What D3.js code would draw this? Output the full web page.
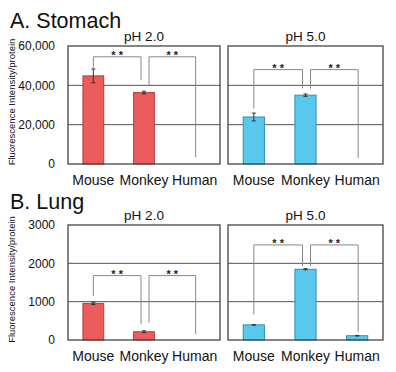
<!DOCTYPE html>
<html>
<head>
<meta charset="utf-8">
<script src="https://cdn.jsdelivr.net/npm/d3@7"></script>
<style>
  body { margin: 0; background: #fff; }
  svg { font-family: "Liberation Sans", Arial, sans-serif; }
</style>
</head>
<body>
<svg id="chart" width="396" height="372"></svg>
<script>
// data
var species = ["Mouse", "Monkey", "Human"];

var stomachPH2 = [44800, 36300, 0];
var stomachPH2Err = [3500, 700, 0];
var stomachPH5 = [23900, 35000, 0];
var stomachPH5Err = [2000, 600, 0];

var lungPH2 = [955, 215, 0];
var lungPH2Err = [30, 25, 0];
var lungPH5 = [395, 1845, 112];
var lungPH5Err = [8, 15, 8];

var stomachTicks = [0, 20000, 40000, 60000];
var lungTicks = [0, 1000, 2000, 3000];

// brackets: [from, to, top value, left leg end, right leg end]
var stomachPH2Brackets = [[0, 1, 54500, 48600, 42600], [1, 2, 54500, 40000, 3500]];
var stomachPH5Brackets = [[0, 1, 48000, 28200, 38400], [1, 2, 48000, 38400, 3000]];
var lungPH2Brackets = [[0, 1, 1680, 1145, 410], [1, 2, 1680, 450, 150]];
var lungPH5Brackets = [[0, 1, 2480, 670, 1925], [1, 2, 2480, 1925, 215]];

var svg = d3.select("#chart");

var red = {fill: "#ec5c5c", stroke: "#b23c3c"},
    blue = {fill: "#58c8ec", stroke: "#3b8cad"};

var panels = [
  {x0: 68, x1: 220, y0: 46, y1: 164, title: "pH 2.0", vals: stomachPH2, err: stomachPH2Err, br: stomachPH2Brackets, ticks: stomachTicks, col: red, axis: true, fmt: d3.format(",")},
  {x0: 228, x1: 383, y0: 46, y1: 164, title: "pH 5.0", vals: stomachPH5, err: stomachPH5Err, br: stomachPH5Brackets, ticks: stomachTicks, col: blue, axis: false},
  {x0: 68, x1: 220, y0: 225, y1: 340, title: "pH 2.0", vals: lungPH2, err: lungPH2Err, br: lungPH2Brackets, ticks: lungTicks, col: red, axis: true, fmt: d3.format("d")},
  {x0: 228, x1: 383, y0: 225, y1: 340, title: "pH 5.0", vals: lungPH5, err: lungPH5Err, br: lungPH5Brackets, ticks: lungTicks, col: blue, axis: false}
];

// section headings
svg.append("text").attr("x", 10).attr("y", 28)
  .attr("font-size", 21.5).attr("fill", "#111").text("A. Stomach");
svg.append("text").attr("x", 10).attr("y", 209)
  .attr("font-size", 21.5).attr("fill", "#111").text("B. Lung");

panels.forEach(function(p) {
  var x = d3.scaleBand().domain(species).range([p.x0, p.x1]);
  var y = d3.scaleLinear()
      .domain([p.ticks[0], p.ticks[p.ticks.length - 1]])
      .range([p.y1, p.y0]);
  var barW = x.bandwidth() * 0.41;
  var cx = function(i) { return x(species[i]) + x.bandwidth() / 2; };

  var g = svg.append("g");

  // grid lines
  g.selectAll(".grid")
    .data(p.ticks.slice(1, -1))
    .enter().append("line")
      .attr("x1", p.x0).attr("x2", p.x1)
      .attr("y1", function(d) { return y(d); })
      .attr("y2", function(d) { return y(d); })
      .attr("stroke", "#555").attr("stroke-width", 1);

  // bars
  g.selectAll(".bar")
    .data(p.vals)
    .enter().append("rect")
      .attr("x", function(d, i) { return cx(i) - barW / 2; })
      .attr("width", barW)
      .attr("y", function(d) { return y(d); })
      .attr("height", function(d) { return p.y1 - y(d); })
      .attr("fill", p.col.fill)
      .attr("stroke", function(d) { return d > 0 ? p.col.stroke : "none"; })
      .attr("stroke-width", 1);

  // error bars
  p.vals.forEach(function(v, i) {
    if (v <= 0) return;
    var e = p.err[i];
    g.append("line")
      .attr("x1", cx(i)).attr("x2", cx(i))
      .attr("y1", y(v + e)).attr("y2", y(v - e))
      .attr("stroke", "#333").attr("stroke-width", 1);
    [v + e, v - e].forEach(function(t) {
      g.append("line")
        .attr("x1", cx(i) - 2).attr("x2", cx(i) + 2)
        .attr("y1", y(t)).attr("y2", y(t))
        .attr("stroke", "#333").attr("stroke-width", 1);
    });
  });

  // significance brackets
  p.br.forEach(function(b) {
    var xl = cx(b[0]) + (b[0] === 1 ? 5 : 0),
        xr = cx(b[1]) + (b[1] === 1 ? -3 : 1);
    g.append("path")
      .attr("d", "M" + xl + "," + y(b[3]) + "V" + y(b[2]) + "H" + xr + "V" + y(b[4]))
      .attr("fill", "none").attr("stroke", "#888").attr("stroke-width", 1);
    g.append("text")
      .attr("x", (xl + xr) / 2).attr("y", y(b[2]) + 2)
      .attr("text-anchor", "middle")
      .attr("font-size", 11).attr("font-weight", "bold")
      .attr("fill", "#222")
      .text("* *");
  });

  // frame
  g.append("rect")
    .attr("x", p.x0).attr("y", p.y0)
    .attr("width", p.x1 - p.x0).attr("height", p.y1 - p.y0)
    .attr("fill", "none").attr("stroke", "#444").attr("stroke-width", 1.3);

  // title
  g.append("text")
    .attr("x", (p.x0 + p.x1) / 2).attr("y", p.y0 - 5)
    .attr("text-anchor", "middle")
    .attr("font-size", 13.5).attr("fill", "#111")
    .text(p.title);

  // category axis
  var xa = g.append("g")
      .attr("transform", "translate(0," + p.y1 + ")")
      .call(d3.axisBottom(x).tickSize(0).tickPadding(11));
  xa.select(".domain").remove();
  xa.selectAll("text").attr("font-size", 14).attr("fill", "#111")
    .attr("font-family", "Liberation Sans, Arial, sans-serif");

  if (p.axis) {
    var ya = g.append("g")
        .attr("transform", "translate(" + p.x0 + ",0)")
        .call(d3.axisLeft(y).tickValues(p.ticks).tickFormat(p.fmt).tickSize(0).tickPadding(13));
    ya.select(".domain").remove();
    ya.selectAll("text").attr("font-size", 12).attr("fill", "#111")
      .attr("font-family", "Liberation Sans, Arial, sans-serif");

    svg.append("text")
      .attr("transform", "translate(15," + ((p.y0 + p.y1) / 2 - 3) + ") rotate(-90)")
      .attr("text-anchor", "middle")
      .attr("font-size", 9.5).attr("fill", "#111")
      .text("Fluorescence Intensity/protein");
  }
});
</script>
</body>
</html>
